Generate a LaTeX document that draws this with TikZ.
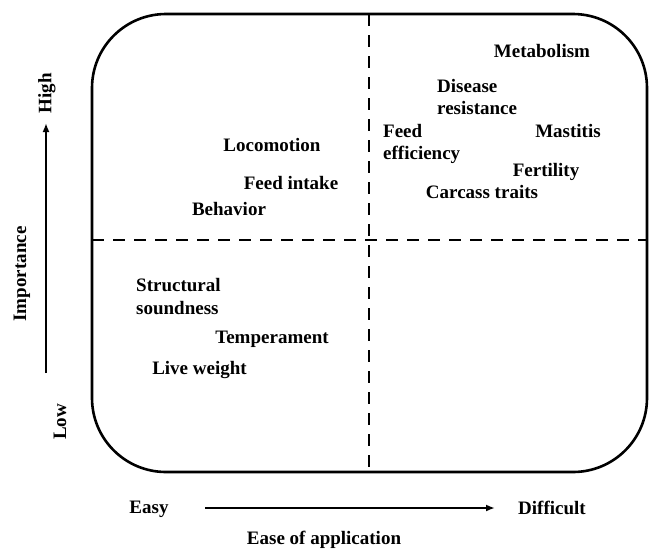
\documentclass[tikz,border=0pt]{standalone}
\usepackage{fontspec}
\setmainfont{Liberation Serif}
\usetikzlibrary{positioning,arrows.meta}
\tikzset{
  trait/.style={inner sep=0pt,font=\bfseries\fontsize{19}{22.5}\selectfont},
  traitpair/.style={trait,align=left,anchor=west},
  axislabel/.style={trait},
  quadline/.style={line width=2.6pt,dash pattern=on 12pt off 9pt},
  axisarrow/.style={line width=2pt,-{Latex[length=9pt,width=7pt]}}
}

\begin{document}
\begin{tikzpicture}[x=1pt,y=-1pt]
                      \useasboundingbox (0,0) rectangle (651,550);
                      \draw[line width=2.6pt,rounded corners=74pt] (92,14) rectangle (647,472);
                      \draw[quadline] (369,14) -- (369,470);
                      \draw[quadline] (92,240) -- (647,240);
                      \node[trait] (metabolism) at (542,51) {Metabolism};
                      \node[traitpair] (disease) at (437,97) {Disease\\resistance};
                      \node[traitpair] (feedeff) at (383,144) {Feed\\efficiency};
                      \node[trait] (mastitis) at (568,131) {Mastitis};
                      \node[trait] (fertility) at (546,172) {Fertility};
                      \node[trait] (carcass) at (482,192) {Carcass traits};
                      \node[trait] (locomotion) at (272,145) {Locomotion};
                      \node[trait] (feedintake) at (291,183) {Feed intake};
                      \node[trait] (behavior) at (229,209) {Behavior};
                      \node[traitpair] (structural) at (136,296.5) {Structural\\soundness};
                      \node[trait] (temperament) at (272,339) {Temperament};
                      \node[trait] (liveweight) at (199.5,370) {Live weight};
                      \node[axislabel,rotate=90] (high) at (47,93) {High};
                      \node[axislabel,rotate=90] (importance) at (22,274) {Importance};
                      \node[axislabel,rotate=90] (low) at (60,422) {Low};
                      \node[axislabel] (easy) at (149,509) {Easy};
                      \node[axislabel] (difficult) at (552,508) {Difficult};
                      \node[axislabel] (ease) at (324,540) {Ease of application};
                      \coordinate (imp_low) at (46,373);
                      \coordinate (imp_high) at (46,123);
                      \coordinate (app_easy) at (205,508);
                      \coordinate (app_hard) at (495,508);
                      \draw[axisarrow] (imp_low) -- (imp_high);
                      \draw[axisarrow] (app_easy) -- (app_hard);
                \end{tikzpicture}
\end{document}
